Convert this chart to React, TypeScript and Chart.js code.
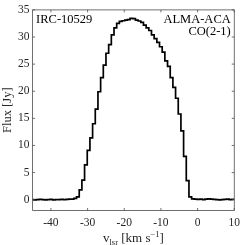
import React, { useEffect, useRef } from "react";
import { Chart, registerables } from "chart.js";

Chart.register(...registerables);

// Channel velocities (km/s) and flux densities (Jy)
const velocity = [
  -45.06, -44.33, -43.6, -42.87, -42.14, -41.41, -40.68, -39.95, -39.22, -38.49,
  -37.76, -37.03, -36.3, -35.57, -34.84, -34.11, -33.38, -32.65, -31.92, -31.19,
  -30.46, -29.73, -29.0, -28.27, -27.54, -26.81, -26.08, -25.35, -24.62, -23.89,
  -23.16, -22.43, -21.7, -20.97, -20.24, -19.51, -18.78, -18.05, -17.32, -16.59,
  -15.86, -15.13, -14.4, -13.67, -12.94, -12.21, -11.48, -10.75, -10.02, -9.29,
  -8.56, -7.83, -7.1, -6.37, -5.64, -4.91, -4.18, -3.45, -2.72, -1.99,
  -1.26, -0.53, 0.2, 0.93, 1.66, 2.39, 3.12, 3.85, 4.58, 5.31,
  6.04, 6.77, 7.5, 8.23, 8.96, 9.69, 10.42,
];
const flux = [
  0.0, -0.05, 0.0, 0.05, 0.0, -0.05, 0.0, 0.05, -0.05, 0.0,
  0.0, 0.05, 0.0, 0.05, 0.1, 0.1, 0.25, 0.5, 1.8, 3.6,
  6.4, 9.1, 11.4, 14.0, 16.7, 19.9, 22.5, 24.8, 27.0, 28.6,
  30.4, 31.7, 32.5, 32.9, 33.0, 33.1, 33.2, 33.45, 33.4, 33.1,
  32.95, 32.7, 32.2, 31.7, 31.2, 30.4, 29.7, 29.0, 28.2, 27.2,
  25.6, 24.6, 22.5, 20.7, 18.7, 15.8, 12.7, 8.0, 3.5, 0.5,
  0.15, 0.1, 0.05, 0.1, 0.0, 0.1, 0.15, 0.1, 0.05, 0.0,
  -0.05, 0.0, 0.05, 0.1, 0.0, 0.05, 0.05,
];

const xTickValues = [-40, -30, -20, -10, 0, 10];
const yTickValues = [0, 5, 10, 15, 20, 25, 30, 35];
const xRange = [-45, 10];
const yRange = [-2, 35];

const sourceLabel = "IRC-10529";
const instrumentLabel = "ALMA-ACA";
const lineLabel = "CO(2-1)";
const yTitle = "Flux [Jy]";

const FONT = "'Liberation Serif', 'DejaVu Serif', serif";
const TEXT = "#262626";

const framePlugin = {
  id: "frame",
  afterDraw(chart: any) {
    const { ctx, chartArea: a, scales } = chart;
    const x = scales.x;
    const y = scales.y;
    ctx.save();
    ctx.strokeStyle = "#4d4d4d";
    ctx.lineWidth = 0.8;
    ctx.strokeRect(a.left, a.top, a.right - a.left, a.bottom - a.top);
    const tl = 2.5;
    ctx.beginPath();
    for (const v of xTickValues) {
      const px = x.getPixelForValue(v);
      ctx.moveTo(px, a.bottom);
      ctx.lineTo(px, a.bottom - tl);
      ctx.moveTo(px, a.top);
      ctx.lineTo(px, a.top + tl);
    }
    for (const v of yTickValues) {
      const py = y.getPixelForValue(v);
      ctx.moveTo(a.left, py);
      ctx.lineTo(a.left + tl, py);
      ctx.moveTo(a.right, py);
      ctx.lineTo(a.right - tl, py);
    }
    ctx.stroke();

    // annotations
    ctx.fillStyle = "#000";
    ctx.font = `12.5px ${FONT}`;
    ctx.textBaseline = "alphabetic";
    ctx.textAlign = "left";
    ctx.fillText(sourceLabel, a.left + 3.5, a.top + 13.5);
    ctx.textAlign = "right";
    ctx.fillText(instrumentLabel, a.right - 3.5, a.top + 13.5);
    ctx.fillText(lineLabel, a.right - 3.5, a.top + 25);

    // x-axis title with subscript / superscript
    const parts = [
      { t: "v", size: 13, dy: 0 },
      { t: "lsr", size: 8.5, dy: 2.5 },
      { t: " [km s", size: 13, dy: 0 },
      { t: "\u22121", size: 8.5, dy: -5.5 },
      { t: "]", size: 13, dy: 0 },
    ];
    let total = 0;
    for (const p of parts) {
      ctx.font = `${p.size}px ${FONT}`;
      total += ctx.measureText(p.t).width;
    }
    let cx = (a.left + a.right) / 2 - total / 2;
    const base = 242;
    ctx.textAlign = "left";
    ctx.fillStyle = TEXT;
    for (const p of parts) {
      ctx.font = `${p.size}px ${FONT}`;
      ctx.fillText(p.t, cx, base + p.dy);
      cx += ctx.measureText(p.t).width;
    }
    ctx.restore();
  },
};

export default function App() {
  const canvasRef = useRef<HTMLCanvasElement | null>(null);

  useEffect(() => {
    document.body.style.margin = "0";
    document.body.style.overflow = "hidden";
    const canvas = canvasRef.current;
    if (!canvas) return;
    const points = velocity.map((v, i) => ({ x: v, y: flux[i] }));
    const chart = new Chart(canvas, {
      type: "line",
      data: {
        datasets: [
          {
            data: points,
            stepped: "middle",
            borderColor: "#000",
            borderWidth: 1.7,
            pointRadius: 0,
            fill: false,
          },
        ],
      },
      options: {
        animation: false,
        responsive: false,
        devicePixelRatio: 1,
        layout: { padding: { top: 5, right: 6, left: 0, bottom: 0 } },
        plugins: {
          legend: { display: false },
          tooltip: { enabled: false },
        },
        scales: {
          x: {
            type: "linear",
            min: xRange[0],
            max: xRange[1],
            grid: { display: false, drawTicks: false },
            border: { display: false },
            afterFit: (s: any) => {
              s.height = 34.5;
            },
            afterBuildTicks: (s: any) => {
              s.ticks = xTickValues.map((v) => ({ value: v }));
            },
            ticks: {
              padding: 6,
              color: TEXT,
              font: { family: FONT, size: 11.5 },
              maxRotation: 0,
              callback: (v: any) => String(v),
            },
          },
          y: {
            type: "linear",
            min: yRange[0],
            max: yRange[1],
            grid: { display: false, drawTicks: false },
            border: { display: false },
            afterFit: (s: any) => {
              s.width = 32.6;
            },
            afterBuildTicks: (s: any) => {
              s.ticks = yTickValues.map((v) => ({ value: v }));
            },
            ticks: {
              padding: 3,
              color: TEXT,
              font: { family: FONT, size: 11.5 },
              callback: (v: any) => String(v),
            },
            title: {
              display: true,
              text: yTitle,
              color: TEXT,
              font: { family: FONT, size: 12.5 },
              padding: { top: 0, bottom: 0 },
            },
          },
        },
      },
      plugins: [framePlugin],
    });
    return () => chart.destroy();
  }, []);

  return (
    <div style={{ width: 246, height: 245, background: "#fff" }}>
      <canvas ref={canvasRef} width={246} height={245} style={{ display: "block" }} />
    </div>
  );
}
